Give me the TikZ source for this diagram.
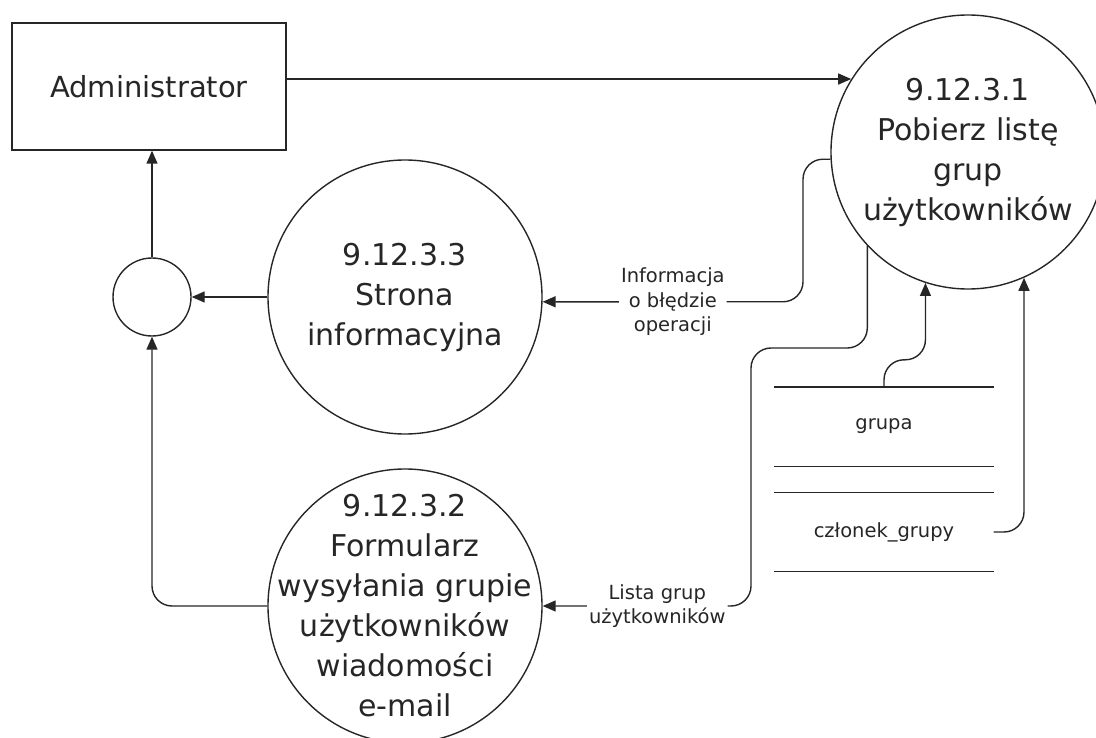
\documentclass[tikz,border=0pt]{standalone}
\usepackage{fontspec}
\setmainfont{DejaVu Sans}
\usepackage{tikz}
\usetikzlibrary{arrows.meta,calc,positioning}

\begin{document}
\begin{tikzpicture}[x=1pt,y=-1pt,>={Triangle[length=13pt,width=11pt]},
  line width=1.4pt,color=black!85,
  proc/.style={draw,circle,inner sep=-50pt,minimum size=274pt,align=center,font=\fontsize{30}{40}\selectfont},
  lbl/.style={fill=white,inner sep=2pt,align=center,font=\fontsize{19.5}{24.5}\selectfont},
  store/.style={inner sep=0pt,minimum width=218pt,minimum height=78pt,font=\fontsize{19.5}{24.5}\selectfont},
  flow/.style={->,rounded corners=20pt}]
\clip (0,0) rectangle (1096,738);
\node[draw,inner sep=0pt,minimum width=274pt,minimum height=127pt,font=\fontsize{29}{36}\selectfont] (admin) at (149,86.5) {Administrator};
\node[draw,circle,inner sep=0pt,minimum size=78pt] (join) at (152,297) {};
\node[proc] (pobierz) at (968,152) {9.12.3.1\\Pobierz listę\\grup\\użytkowników};
\node[proc] (strona) at (405,297) {9.12.3.3\\Strona\\informacyjna};
\node[proc] (formularz) at (405,606) {9.12.3.2\\Formularz\\wysyłania grupie\\użytkowników\\wiadomości\\e-mail};
\node[store] (grupa) at (884,426.5) {grupa};
\node[store] (czlonek) at (884,532) {członek\_grupy};
\foreach \s in {grupa,czlonek}
  \draw (\s.north west) -- (\s.north east) (\s.south west) -- (\s.south east);
\draw[->] (admin.east |- pobierz.148) -- (pobierz.148);
\draw[->] (join.north) -- (join.north |- admin.south);
\draw[->] (strona.west) -- (join.east);
\draw[flow] (formularz.west) -| (join.south);
\draw[flow] (pobierz.183) -| (803,301.8) -- node[lbl] (blad) {Informacja\\o błędzie\\operacji} (strona.-2);
\draw[flow] (pobierz.223) |- (751,348) |- node[lbl,pos=0.725] (lista) {Lista grup\\użytkowników} (formularz.east);
\draw[flow] (grupa.north) -- ++(0,-27) -| (pobierz.252);
\draw[flow] (czlonek.east) -| (pobierz.-66);
\end{tikzpicture}
\end{document}
